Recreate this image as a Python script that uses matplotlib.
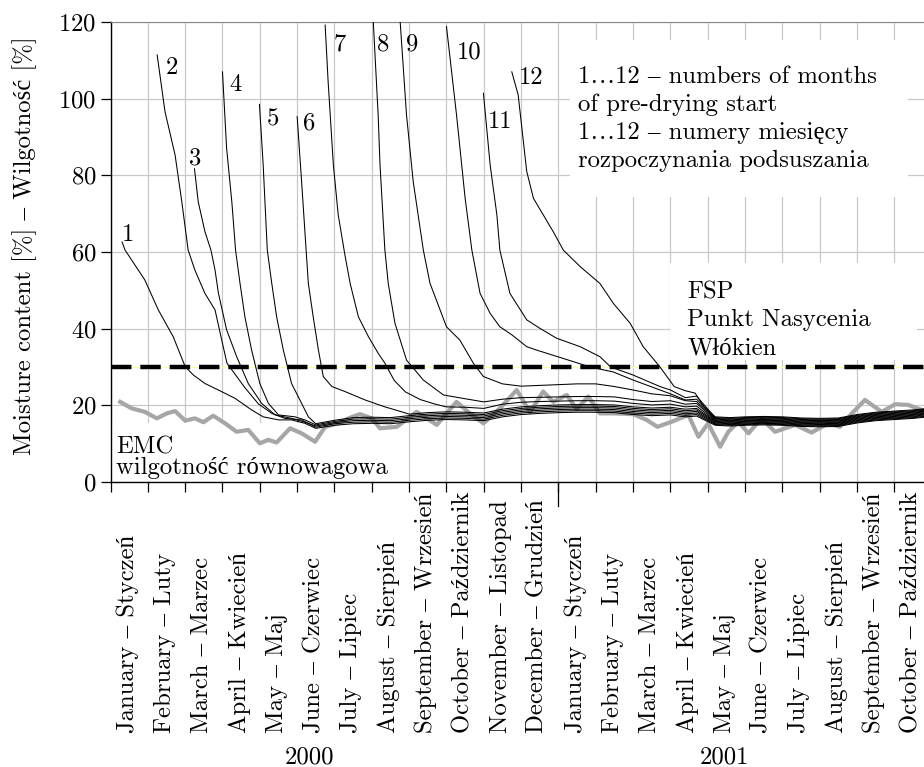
import numpy as np
import matplotlib.pyplot as plt
import matplotlib.transforms as mtransforms
from matplotlib.patches import Rectangle

plt.rcParams['font.family'] = ['cmr10', 'Liberation Serif']
plt.rcParams['mathtext.fontset'] = 'cm'
plt.rcParams['axes.formatter.use_mathtext'] = True
plt.rcParams['font.size'] = 17.8

# month labels (x axis, one per month from January 2000)
months_en = ['January', 'February', 'March', 'April', 'May', 'June', 'July',
             'August', 'September', 'October', 'November', 'December',
             'January', 'February', 'March', 'April', 'May', 'June', 'July',
             'August', 'September', 'October']
months_pl = ['Styczeń', 'Luty', 'Marzec', 'Kwiecień', 'Maj', 'Czerwiec', 'Lipiec',
             'Sierpień', 'Wrzesień', 'Październik', 'Listopad', 'Grudzień',
             'Styczeń', 'Luty', 'Marzec', 'Kwiecień', 'Maj', 'Czerwiec', 'Lipiec',
             'Sierpień', 'Wrzesień', 'Październik']
years = ['2000', '2001']
y_ticks = [0, 20, 40, 60, 80, 100, 120]
fsp = 30

# x values are months since 1 January 2000
# EMC - equilibrium moisture content
emc_m = [0.26, 0.57, 0.92, 1.24, 1.51, 1.73, 2.0, 2.26, 2.49, 2.75, 3.07, 3.38, 3.69,
         4.0, 4.23, 4.45, 4.81, 5.12, 5.48, 5.75, 6.1, 6.37, 6.68, 7.0, 7.22, 7.67,
         8.2, 8.74, 9.27, 9.63, 9.99, 10.43, 10.88, 11.24, 11.59, 11.86, 12.22, 12.49,
         12.8, 13.11, 13.47, 14.0, 14.36, 14.65, 15.03, 15.48, 15.75, 16.01, 16.33,
         16.55, 16.82, 17.09, 17.44, 17.8, 18.34, 18.78, 19.23, 19.54, 19.86, 20.21,
         20.66, 21.02, 21.37, 21.73]
emc_v = [20.9, 19.2, 18.3, 16.6, 17.9, 18.5, 16.0, 16.6, 15.6, 17.3, 15.3, 13.1, 13.6,
         10.1, 11.0, 10.3, 14.0, 12.7, 10.5, 14.4, 15.3, 16.6, 17.7, 16.6, 14.0, 14.4,
         18.3, 14.9, 20.9, 17.9, 15.3, 19.2, 24.0, 18.2, 23.6, 20.9, 22.7, 19.0,
         22.3, 17.9, 17.9, 17.7, 16.2, 14.4, 15.7, 17.5, 11.8, 15.3, 9.2,
         13.1, 15.7, 12.7, 16.6, 13.1, 14.9, 12.9, 15.3, 14.4, 17.9, 21.4,
         18.3, 20.3, 20.1, 18.8]

# common month grid of the slow part of the drying curves
tail_m = [5.5, 6.0, 6.5, 7.0, 7.5, 8.0, 8.5, 9.0, 9.5, 10.0, 10.5, 11.0, 11.5, 12.0,
          12.5, 13.0, 13.5, 14.0, 14.5, 15.0, 15.4, 15.7, 16.2, 16.6, 17.0, 17.5,
          18.0, 18.5, 19.0, 19.5, 20.0, 20.5, 21.0, 21.5, 21.8]

# drying curves 1..12: fast drop (m, v), then values on tail_m
m1 = [0.31, 0.39, 0.92, 1.28, 1.68, 2.0, 2.22, 2.53, 2.89, 3.34, 3.78, 4.09, 4.5, 4.85, 5.21]
v1 = [62.6, 60.5, 52.7, 44.9, 37.9, 30.1, 27.9, 25.7, 24.0, 21.8, 18.8, 17.0, 16.2, 16.2, 15.3]
t1 = [14.0, 14.8, 15.2, 15.3, 15.2, 15.7, 16.1, 16.3, 16.2, 16.0, 17.0, 17.6, 17.9, 18.1,
      18.2, 18.2, 18.1, 17.6, 17.3, 17.5, 17.0, 17.2, 14.8, 14.6, 14.8, 14.9, 14.8, 14.5,
      14.4, 14.5, 15.4, 16.0, 16.3, 16.6, 16.9]

m2 = [1.25, 1.46, 1.73, 1.91, 2.08, 2.26, 2.53, 2.8, 2.98, 3.12, 3.6, 3.96, 4.32, 4.67, 5.12]
v2 = [111.4, 96.6, 85.3, 73.1, 60.5, 55.3, 49.2, 44.9, 37.0, 31.0, 24.6, 20.4, 17.9, 16.6, 16.2]
t2 = [14.3, 15.2, 15.6, 15.7, 15.6, 16.1, 16.5, 16.7, 16.6, 16.4, 17.4, 18.0, 18.3, 18.5,
      18.6, 18.6, 18.5, 18.0, 17.7, 17.9, 17.4, 17.6, 15.0, 14.8, 15.0, 15.1, 15.0, 14.7,
      14.6, 14.7, 15.6, 16.2, 16.5, 16.8, 17.1]

m3 = [2.25, 2.35, 2.53, 2.69, 2.8, 2.89, 3.11, 3.38, 3.69, 4.05, 4.41, 4.85, 5.21]
v3 = [81.7, 73.1, 65.3, 60.5, 55.3, 49.3, 39.7, 32.7, 25.7, 20.5, 17.5, 16.6, 15.6]
t3 = [14.6, 15.5, 16.0, 16.1, 16.0, 16.5, 16.9, 17.1, 17.0, 16.8, 17.8, 18.4, 18.7, 18.9,
      19.0, 19.0, 18.9, 18.4, 18.1, 18.3, 17.8, 18.0, 15.2, 15.0, 15.2, 15.3, 15.2, 14.9,
      14.8, 14.9, 15.8, 16.4, 16.7, 17.0, 17.3]

m4 = [3.0, 3.11, 3.25, 3.35, 3.47, 3.6, 3.78, 4.0, 4.23, 4.5, 4.94, 5.21]
v4 = [107.0, 87.1, 73.1, 60.5, 51.8, 43.1, 34.4, 25.7, 20.5, 17.5, 17.0, 16.2]
t4 = [14.9, 15.8, 16.4, 16.5, 16.4, 16.9, 17.3, 17.5, 17.4, 17.2, 18.2, 18.8, 19.1, 19.3,
      19.4, 19.4, 19.3, 18.8, 18.5, 18.7, 18.2, 18.4, 15.4, 15.2, 15.4, 15.5, 15.4, 15.1,
      15.0, 15.1, 16.0, 16.6, 16.9, 17.2, 17.5]

m5 = [3.99, 4.09, 4.2, 4.32, 4.45, 4.63, 4.85, 5.12, 5.3]
v5 = [98.5, 82.7, 60.5, 51.8, 43.1, 34.4, 25.7, 20.5, 17.0]
t5 = [15.2, 16.1, 16.8, 16.9, 16.8, 17.3, 17.7, 17.9, 17.8, 17.6, 18.6, 19.2, 19.5, 19.7,
      19.8, 19.8, 19.7, 19.2, 18.9, 19.1, 18.6, 18.8, 15.6, 15.4, 15.6, 15.7, 15.6, 15.3,
      15.2, 15.3, 16.2, 16.8, 17.1, 17.4, 17.7]

m6 = [5.0, 5.12, 5.24, 5.3, 5.43, 5.57, 5.7, 5.93, 6.28, 6.82, 7.35, 7.7]
v6 = [95.3, 78.3, 60.5, 51.8, 43.1, 34.4, 27.5, 24.9, 23.6, 21.4, 19.6, 18.6]
t6 = [17.7, 18.1, 18.3, 18.2, 18.0, 19.0, 19.6, 19.9, 20.1, 20.2, 20.2, 20.1, 19.6, 19.3,
      19.5, 19.0, 19.2, 15.8, 15.6, 15.8, 15.9, 15.8, 15.5, 15.4, 15.5, 16.4, 17.0, 17.3,
      17.6, 17.9]

m7 = [5.75, 5.83, 5.97, 6.1, 6.28, 6.42, 6.64, 6.91, 7.17, 7.35, 7.6, 7.9, 8.3, 8.7]
v7 = [119.2, 104.4, 82.7, 69.7, 59.2, 51.8, 43.1, 37.9, 33.6, 31.0, 26.5, 23.5, 21.5, 20.3]
t7 = [19.6, 19.5, 19.2, 20.3, 20.8, 21.0, 21.1, 21.2, 21.2, 21.1, 20.5, 20.1, 20.3, 19.6,
      19.8, 16.0, 15.8, 16.0, 16.1, 16.0, 15.7, 15.6, 15.7, 16.6, 17.2, 17.5, 17.8, 18.1]

m8 = [7.04, 7.17, 7.22, 7.35, 7.44, 7.62, 7.93, 8.38, 8.92, 9.45]
v8 = [120.0, 95.7, 82.7, 60.5, 51.8, 41.4, 31.8, 26.6, 22.7, 21.8]
t8 = [20.9, 21.6, 22.0, 22.1, 22.2, 22.3, 22.3, 22.2, 21.5, 21.0, 21.2, 20.3, 20.5, 16.2,
      16.0, 16.2, 16.3, 16.2, 15.9, 15.8, 15.9, 16.8, 17.4, 17.7, 18.0, 18.3]

m9 = [7.76, 7.93, 8.11, 8.38, 8.56, 9.0, 9.36, 9.72, 9.99]
v9 = [120.0, 95.7, 78.3, 60.5, 51.8, 40.5, 37.0, 31.0, 27.5]
t9 = [25.6, 25.0, 25.2, 25.4, 25.6, 25.6, 24.9, 24.0, 23.0, 22.5, 21.2, 21.0, 16.4, 16.2,
      16.4, 16.5, 16.4, 16.1, 16.0, 16.1, 17.0, 17.6, 17.9, 18.2, 18.5]

m10 = [9.0, 9.27, 9.5, 9.68, 9.9, 10.17, 10.43, 10.75, 11.15, 11.42, 12.04, 12.85, 13.47,
       14.0, 14.72, 15.0]
v10 = [118.8, 95.7, 74.0, 60.5, 49.2, 44.0, 40.5, 38.4, 35.3, 34.4, 32.5, 30.0, 28.7,
       26.6, 24.0, 23.0]
t10 = [21.4, 21.6, 16.6, 16.4, 16.6, 16.7, 16.6, 16.3, 16.2, 16.3, 17.2, 17.8, 18.1, 18.4, 18.7]

m11 = [9.99, 10.17, 10.35, 10.43, 10.7, 11.15, 11.5, 11.95, 12.58, 13.11, 13.4, 14.0,
       14.72, 15.0]
v11 = [101.4, 82.7, 69.7, 60.5, 49.2, 42.3, 40.1, 37.5, 35.3, 32.7, 30.0, 27.9, 24.9, 24.0]
t11 = [22.0, 22.4, 16.8, 16.6, 16.8, 16.9, 16.8, 16.5, 16.4, 16.5, 17.4, 18.0, 18.3, 18.6, 18.9]

m12 = [10.75, 10.92, 11.15, 11.33, 11.86, 12.13, 12.58, 13.11, 13.47, 13.92, 14.27, 14.72,
       15.1, 15.4, 15.66, 15.9]
v12 = [107.0, 101.0, 81.0, 74.0, 65.3, 60.5, 56.2, 51.8, 46.6, 41.4, 35.3, 30.0, 24.9,
       23.8, 23.2, 19.6]
t12 = [17.0, 16.8, 17.0, 17.1, 17.0, 16.7, 16.6, 16.7, 17.6, 18.2, 18.5, 18.8, 19.1]

curves = [(m1, v1, t1), (m2, v2, t2), (m3, v3, t3), (m4, v4, t4), (m5, v5, t5),
          (m6, v6, t6), (m7, v7, t7), (m8, v8, t8), (m9, v9, t9), (m10, v10, t10),
          (m11, v11, t11), (m12, v12, t12)]

# label positions of the curve numbers (month, value)
num_pos = [(0.47, 64.4), (1.64, 107.9), (2.28, 84.4), (3.35, 103.7), (4.34, 94.7),
           (5.32, 93.6), (6.13, 114.2), (7.31, 114.2), (8.09, 114.2), (9.61, 112.1),
           (10.45, 94.0), (11.26, 105.3)]

W, H = 924, 767
fig = plt.figure(figsize=(W / 100, H / 100), dpi=100)
ax = fig.add_axes([110.5 / W, (H - 482) / H, 813.8 / W, 460 / H])
ax.set_xlim(0, 21.8)
ax.set_ylim(0, 120)

ax.set_axisbelow(True)
ax.grid(True, color='#c8c8c8', lw=0.9)
ax.set_xticks(np.arange(0, 22))
ax.set_xticklabels([])
ax.set_yticks(y_ticks)
ax.tick_params(axis='both', direction='out', length=7, width=0.9, pad=3)
ax.spines['right'].set_visible(False)
ax.spines['top'].set_color('#888888')
ax.spines['left'].set_linewidth(1.0)
ax.spines['bottom'].set_linewidth(1.0)

# white boxes behind the texts
for (x0, y0, x1, y1) in [(12.31, 74.4, 21.36, 115.3), (15.0, 31.8, 21.6, 57.1),
                          (0.02, 0.3, 7.5, 15.4)]:
    ax.add_patch(Rectangle((x0, y0), x1 - x0, y1 - y0, facecolor='white',
                           edgecolor='none', zorder=1))

# FSP line
ax.axhline(fsp, color='#ffffb0', lw=0.8, zorder=2)
ax.axhline(fsp, color='black', lw=3.2, dashes=(4.6, 2.0), zorder=2.1)

# EMC
ax.plot(emc_m, emc_v, color='#a6a6a6', lw=3.0, zorder=2.5, solid_joinstyle='round')

for m, v, t in curves:
    start = len(tail_m) - len(t)
    ax.plot(m + tail_m[start:], v + t, color='black', lw=0.75, zorder=3,
            solid_joinstyle='round')

for i, (px, py) in enumerate(num_pos):
    ax.text(px, py, str(i + 1), ha='center', va='center', zorder=4)

ax.text(12.52, 108.6,
        '1…12 – numbers of months\nof pre-drying start\n'
        '1…12 – numery miesięcy\nrozpoczynania podsuszania',
        ha='left', va='top', linespacing=1.34, zorder=4)
ax.text(15.45, 52.4, 'FSP\nPunkt Nasycenia\nWłókien',
        ha='left', va='top', linespacing=1.34, zorder=4)
ax.text(0.15, 11.9, 'EMC\nwilgotność równowagowa',
        ha='left', va='top', linespacing=0.92, zorder=4)

# month labels under the axis
trans = mtransforms.blended_transform_factory(ax.transData, ax.transAxes)
for i in range(len(months_en)):
    ax.text(i + 0.45, -0.5457, months_en[i] + ' – ' + months_pl[i], rotation=90,
            ha='center', va='bottom', transform=trans)
ax.text(5.34, -0.598, years[0], ha='center', va='center', transform=trans)
ax.text(16.45, -0.598, years[1], ha='center', va='center', transform=trans)
ax.plot([12, 12], [0, -0.052], color='black', lw=0.9, transform=trans, clip_on=False)

fig.text(25 / W, 1 - 246 / H, 'Moisture content [%] – Wilgotność [%]',
         rotation=90, ha='center', va='center')

fig.savefig('out.png', dpi=100)
